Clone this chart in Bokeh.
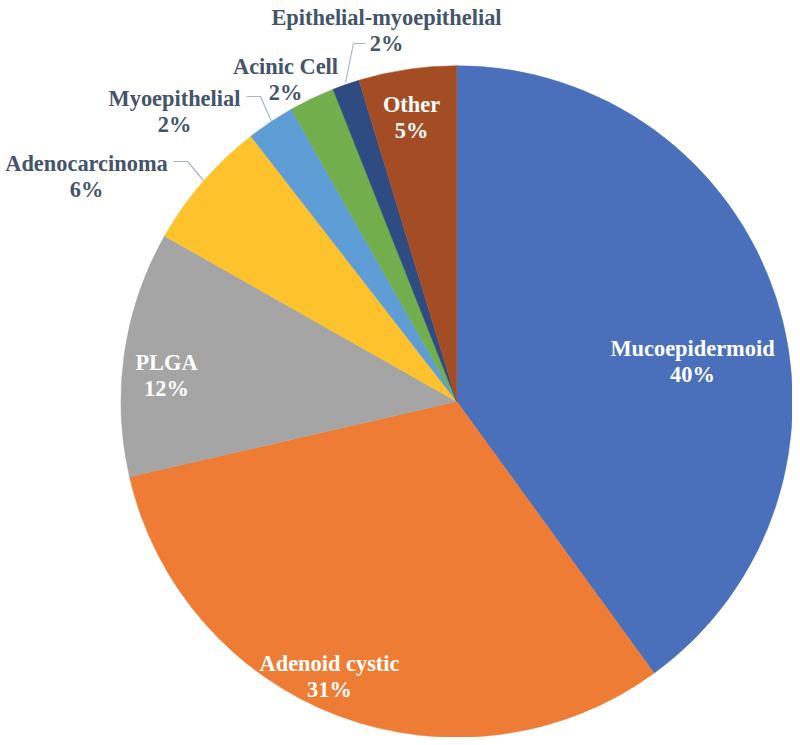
import math
from bokeh.plotting import figure
from bokeh.models import Range1d, ColumnDataSource
from bokeh.core.properties import value
from bokeh.embed import file_html
from bokeh.resources import INLINE

# ---- data ----
categories = ["Mucoepidermoid", "Adenoid cystic", "PLGA", "Adenocarcinoma",
              "Myoepithelial", "Acinic Cell", "Epithelial-myoepithelial", "Other"]
values = [40.0, 31.4, 11.8, 6.3, 2.3, 2.2, 1.3, 4.7]
pct_labels = ["40%", "31%", "12%", "6%", "2%", "2%", "2%", "5%"]

# ---- styles / layout ----
colors = ["#4A70BC", "#EF7C34", "#A5A5A5", "#FEC22C",
          "#5E9DD6", "#72AE4C", "#2E4B82", "#A44D24"]
inside = [True, True, True, False, False, False, False, True]
# label anchor (center x, baseline y of first line) in picture pixels
label_pos = [(692, 348), (329, 663), (166, 362), (86, 163),
             (174, 98), (285, 66), (386, 17), (411, 104)]
leaders = {
    3: [(173, 161), (187, 161), (203, 180)],
    4: [(246, 96), (260, 96), (271, 121)],
    6: [(365, 43), (353, 43), (345, 82)],
}
W, H = 792, 737
LINE_GAP = 26
FONT = value("Liberation Serif")


def page(x, y):
    return x, H - y


center_x, center_y = page(456.2, 401.0)
radius = 335.8

p = figure(width=W, height=H, output_backend="svg", toolbar_location=None,
           x_range=Range1d(0, W), y_range=Range1d(0, H), min_border=0)
p.axis.visible = False
p.grid.visible = False
p.outline_line_color = None
p.background_fill_color = "white"
p.border_fill_color = "white"

total = sum(values)
starts, ends = [], []
cum = 0.0
for v in values:
    starts.append(math.pi / 2 - 2 * math.pi * cum / total)
    cum += v
    ends.append(math.pi / 2 - 2 * math.pi * cum / total)

src = ColumnDataSource(dict(cat=categories, val=values, start=starts, end=ends,
                            color=colors))
p.wedge(x=center_x, y=center_y, radius=radius, radius_units="screen",
        start_angle="start", end_angle="end", direction="clock",
        fill_color="color", line_color="color", line_width=0.5, source=src)

# leader lines
for i, pts in leaders.items():
    xs, ys = zip(*[page(x, y) for x, y in pts])
    p.line(list(xs), list(ys), line_color="#A9B6C8", line_width=1.2)

# labels
nx, ny, px, py, tcol = [], [], [], [], []
for i, cat in enumerate(categories):
    lx, ly = label_pos[i]
    a, b = page(lx, ly)
    c, d = page(lx, ly + LINE_GAP)
    nx.append(a); ny.append(b); px.append(c); py.append(d)
    tcol.append("white" if inside[i] else "#44546A")

lab = ColumnDataSource(dict(nx=nx, ny=ny, px=px, py=py, name=categories,
                            pct=pct_labels, col=tcol))
for xk, yk, tk in (("nx", "ny", "name"), ("px", "py", "pct")):
    p.text(x=xk, y=yk, text=tk, source=lab, text_color="col",
           text_font=FONT, text_font_style="bold", text_font_size="22.4px",
           text_align="center", text_baseline="alphabetic")

open("out.html", "w").write(file_html(p, INLINE))
